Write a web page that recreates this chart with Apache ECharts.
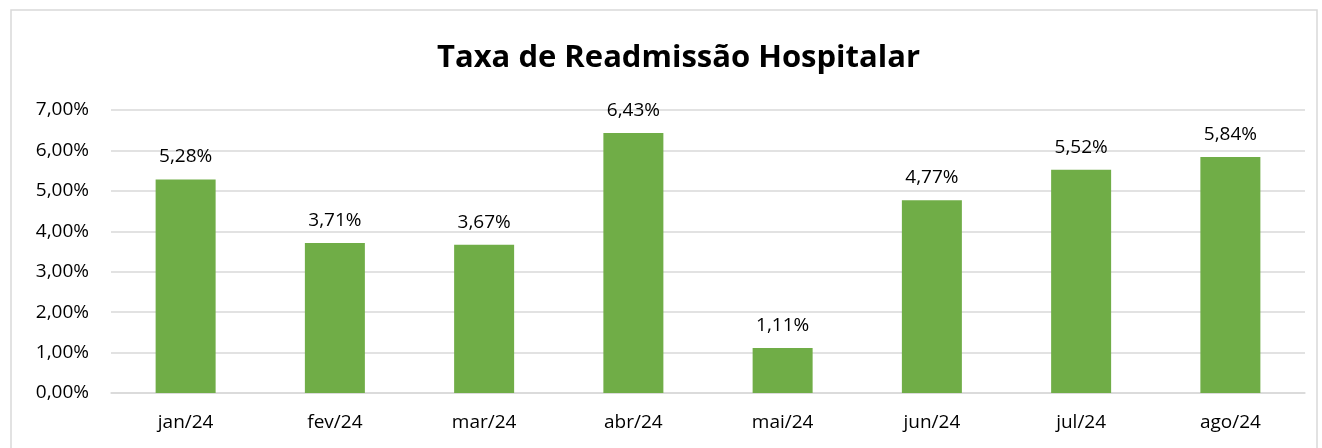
<!DOCTYPE html>
<html>
<head>
<meta charset="utf-8">
<script src="https://cdn.jsdelivr.net/npm/echarts@6/dist/echarts.min.js"></script>
<style>
  html, body { margin: 0; padding: 0; background: #fff; }
  #main { width: 1322px; height: 448px; }
</style>
</head>
<body>
<div id="main"></div>
<script>
    // dados do gráfico
    const meses = ['jan/24', 'fev/24', 'mar/24', 'abr/24', 'mai/24', 'jun/24', 'jul/24', 'ago/24'];
    const taxas = [5.28, 3.71, 3.67, 6.43, 1.11, 4.77, 5.52, 5.84];
    const titulo = 'Taxa de Readmissão Hospitalar';

    const fmt = function (v) {
        return v.toFixed(2).replace('.', ',') + '%';
    };

    const myChart = echarts.init(document.getElementById('main'));
    const fonte = '"Open Sans", sans-serif';
    const option = {
        animation: false,
        title: {
            text: titulo,
            left: 432,
            top: 38,
            textStyle: {
                fontFamily: fonte,
                fontSize: 31,
                fontWeight: 'bold',
                color: '#000'
            }
        },
        graphic: [{
            type: 'rect',
            shape: {x: 11, y: 10, width: 1306, height: 470},
            style: {fill: 'none', stroke: '#d9d9d9', lineWidth: 1.5},
            silent: true
        }],
        grid: {left: 111, right: 17, top: 110, bottom: 55},
        xAxis: {
            type: 'category',
            data: meses,
            axisLine: {show: true, lineStyle: {color: '#d9d9d9', width: 1.5}},
            axisTick: {show: false},
            axisLabel: {
                margin: 20,
                fontFamily: fonte,
                fontSize: 19,
                color: '#000'
            }
        },
        yAxis: {
            type: 'value',
            min: 0,
            max: 7,
            interval: 1,
            axisLine: {show: false},
            axisTick: {show: false},
            splitLine: {lineStyle: {color: '#d9d9d9', width: 1.5}},
            axisLabel: {
                margin: 22,
                fontFamily: fonte,
                fontSize: 19,
                color: '#000',
                formatter: fmt
            }
        },
        series: [{
            name: 'Taxa',
            type: 'bar',
            data: taxas,
            barWidth: 60,
            itemStyle: {color: '#70ad47'},
            label: {
                show: true,
                position: 'top',
                distance: 13,
                fontFamily: fonte,
                fontSize: 19,
                color: '#000',
                formatter: function (p) {
                    return fmt(p.value);
                }
            }
        }]
    };
    myChart.setOption(option);
</script>
</body>
</html>
